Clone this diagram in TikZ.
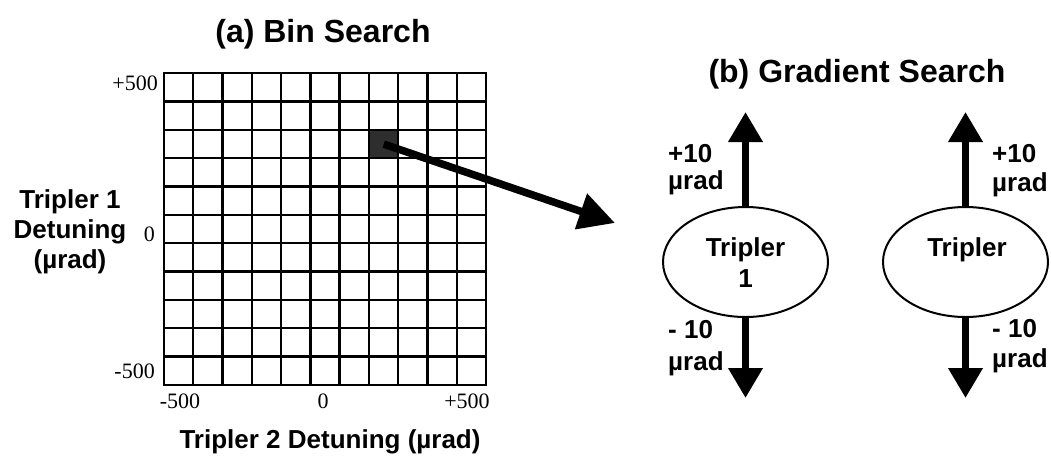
\documentclass[tikz,border=0pt]{standalone}
\usepackage{fontspec}
\setmainfont{Liberation Sans}
\newfontfamily\tickfont{Liberation Serif}
\usetikzlibrary{arrows.meta,shapes.geometric}
\begin{document}
\begin{tikzpicture}[x=1pt,y=-1pt,
  gridline/.style={line width=2.4pt},
  title/.style={font=\fontsize{32}{38}\selectfont\bfseries, inner sep=0pt, anchor=base},
  lab/.style={font=\fontsize{26}{30}\selectfont\bfseries, inner sep=0pt},
  tick/.style={font=\fontsize{22}{26}\selectfont\tickfont, inner sep=0pt},
  tripler/.style={draw, ellipse, line width=2pt, minimum width=165pt, minimum height=110pt, inner sep=0pt},
  vec/.style={line width=7pt, -{Triangle[length=30pt,width=33pt]}},
  bigvec/.style={line width=7.5pt, -{Triangle[length=36pt,width=36pt]}},
  binfill/.style={fill=black!82, draw=none, inner sep=0pt, anchor=north west}
]
\useasboundingbox (0,0) rectangle (1051,456);
% filled bin
\node[binfill, minimum width={322/11*1pt}, minimum height={312/11*1pt}] (cell) at ({164+7*322/11},{73+2*312/11}) {};
% grid
\foreach \i in {0,...,11}{
  \draw[gridline] ({164+\i*322/11},73) -- ({164+\i*322/11},385);
  \draw[gridline] (164,{73+\i*312/11}) -- (486,{73+\i*312/11});
}
\draw[gridline] (164,73) rectangle (486,385);
% titles
\node[title] (ta) at (323,42) {(a) Bin Search};
\node[title] (tb) at (857,82) {(b) Gradient Search};
% axis labels (base anchor = last line baseline)
\node[lab, align=center, anchor=base] (ylab) at (70,268) {Tripler 1\\Detuning\\(µrad)};
\node[lab, anchor=base] (xlab) at (330,448) {Tripler 2 Detuning (µrad)};
% ticks
\node[tick, anchor=base east] (yt1) at (158,90) {+500};
\node[tick, anchor=base east] (yt2) at (155,241) {0};
\node[tick, anchor=base east] (yt3) at (155,378) {-500};
\node[tick, anchor=base] (xt1) at (180,408) {-500};
\node[tick, anchor=base] (xt2) at (323,408) {0};
\node[tick, anchor=base] (xt3) at (467,408) {+500};
% big arrow
\coordinate (bigtip) at (615,223);
\draw[bigvec] (cell.center) -- (bigtip);
% triplers
\node[tripler] (t1) at (745.5,262) {};
\node[tripler] (t2) at (965.5,262) {};
\node[lab, align=center, anchor=base] (t1txt) at (745.5,287) {Tripler\\[1pt]1};
\node[lab, anchor=base] (t2txt) at (967,256) {Tripler};
\coordinate (t1up) at (745.5,112);
\coordinate (t1dn) at (745.5,398);
\coordinate (t2up) at (965.5,112);
\coordinate (t2dn) at (965.5,398);
\draw[vec] (t1.north) -- (t1up);
\draw[vec] (t1.south) -- (t1dn);
\draw[vec] (t2.north) -- (t2up);
\draw[vec] (t2.south) -- (t2dn);
% side labels
\node[lab, align=left, anchor=base west] (l1p) at (668,189) {+10\\[-3pt]µrad};
\node[lab, align=left, anchor=base west] (l1m) at (668,370) {- 10\\[2pt]µrad};
\node[lab, align=left, anchor=base west] (l2p) at (992,191) {+10\\[-1pt]µrad};
\node[lab, align=left, anchor=base west] (l2m) at (992,367) {- 10\\µrad};
\end{tikzpicture}
\end{document}
